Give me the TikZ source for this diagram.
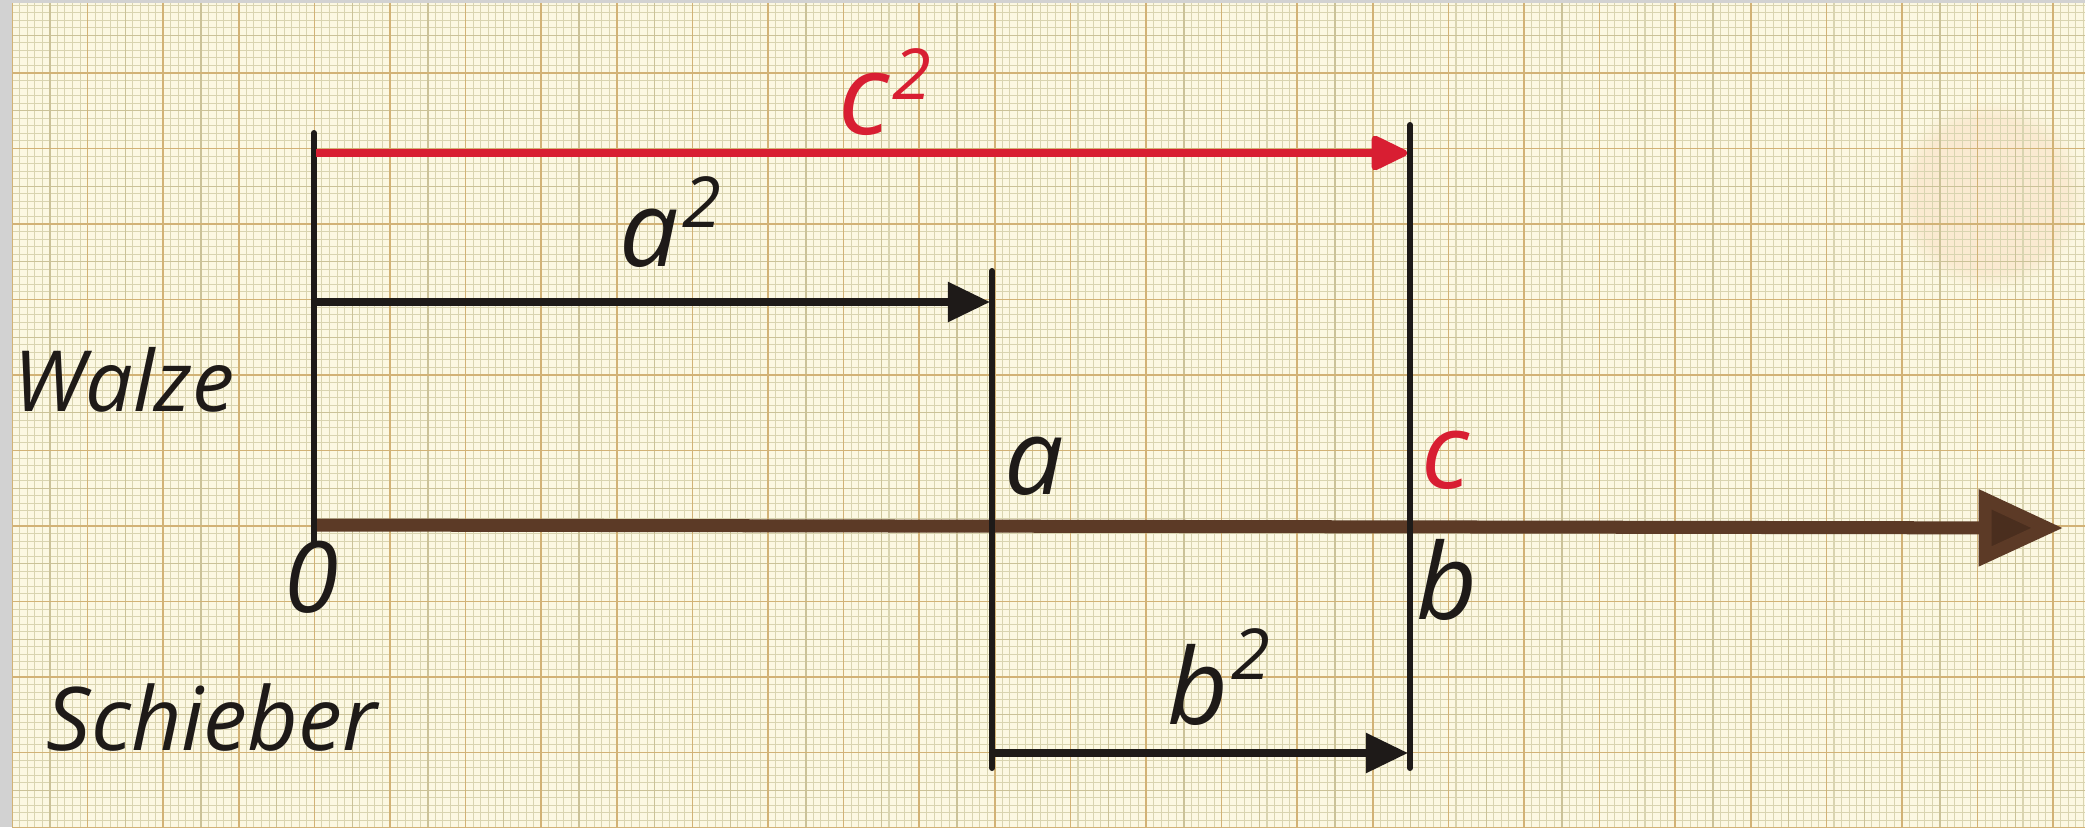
\documentclass[tikz,border=0pt]{standalone}
\usepackage{fontspec}
\setmainfont{Open Sans}
\usetikzlibrary{arrows.meta,fadings}
\definecolor{paper}{HTML}{FCF8E2}
\definecolor{fineln}{HTML}{D9D4B0}
\definecolor{midln}{HTML}{CBC298}
\definecolor{majln}{HTML}{D2B276}
\definecolor{ink}{HTML}{1E1A18}
\definecolor{redink}{HTML}{D81E32}
\definecolor{brownink}{HTML}{5C3A26}
\definecolor{stain}{HTML}{F0A070}
\tikzset{
  fineg/.style={fineln, line width=0.3pt},
  midg/.style={midln, line width=0.4pt},
  majg/.style={majln, line width=0.45pt},
  vline/.style={ink, line width=1.7pt, line cap=round},
  harrow/.style={ink, line width=2pt, -{Triangle[length=12pt,width=11pt]}},
  redarrow/.style={redink, line width=2pt, -{Triangle[length=11.5pt,width=10.5pt,round]}},
  axisarrow/.style={brownink, line width=3.7pt, -{Triangle[length=24pt,width=21pt,fill=brownink!80!black]}},
  lbl/.style={inner sep=0pt, text=ink, font=\itshape\fontsize{#1}{#1}\selectfont},
}
\newcommand{\supnum}[2]{\hspace{1pt}\raisebox{#1}{\fontsize{20}{20}\selectfont #2}}
\begin{document}
\begin{tikzpicture}[x=0.01cm,y=-0.01cm]
\useasboundingbox (0,0) rectangle (2085,827);
\fill[gray!35] (0,0) rectangle (2085,827);
\fill[paper] (12,3) rectangle (2085,827);
\begin{scope}
\clip (12,3) rectangle (2085,827);
\fill[stain, path fading=circle with fuzzy edge 20 percent, opacity=0.15] (1990,195) circle (95);
\foreach \i in {0,...,275} \draw[fineg] ({12+7.56*\i},0) -- ++(0,827);
\foreach \j in {-10,...,100} \draw[fineg] (0,{73+7.55*\j}) -- ++(2085,0);
\foreach \i in {0,...,55} \draw[midg] ({12+37.8*\i},0) -- ++(0,827);
\foreach \j in {-2,...,20} \draw[midg] (0,{73+37.75*\j}) -- ++(2085,0);
\foreach \i in {0,...,27} \draw[majg] ({12+75.6*\i},0) -- ++(0,827);
\foreach \j in {-1,...,10} \draw[majg] (0,{73+75.5*\j}) -- ++(2085,0);
\end{scope}
% coordinates
\coordinate (Ot) at (314,133); \coordinate (Ob) at (314,545);
\coordinate (At) at (992,271); \coordinate (Ab) at (992,768);
\coordinate (Ct) at (1410,125); \coordinate (Cb) at (1410,768);
\coordinate (c2s) at (316,153); \coordinate (c2e) at (1407,153);
\coordinate (a2s) at (316,302); \coordinate (a2e) at (990,302);
\coordinate (b2s) at (994,753); \coordinate (b2e) at (1408,753);
\coordinate (ax0) at (316,525); \coordinate (ax1) at (2063,528);
% axis
\draw[axisarrow] (ax0) -- (ax1);
% vertical lines
\draw[vline] (Ot) -- (Ob);
\draw[vline] (At) -- (Ab);
\draw[vline] (Ct) -- (Cb);
% arrows
\draw[redarrow] (c2s) -- (c2e);
\draw[harrow] (a2s) -- (a2e);
\draw[harrow] (b2s) -- (b2e);
% labels
\node[lbl=24] (walze) at (124,380) {Walze};
\node[lbl=25] (schieber) at (212,718) {Schieber};
\node[lbl=28] (zero) at (312,577) {0};
\node[lbl=30] (asq) at (670,222) {a\supnum{11pt}{2}};
\node[lbl=32, text=redink] (csq) at (885,92) {c\supnum{10pt}{2}};
\node[lbl=30] (bsq) at (1219,677) {b\supnum{13pt}{2}};
\node[lbl=30] (la) at (1034,466) {a};
\node[lbl=30, text=redink] (lc) at (1445,460) {c};
\node[lbl=30] (lb) at (1447,580) {b};
\end{tikzpicture}
\end{document}
